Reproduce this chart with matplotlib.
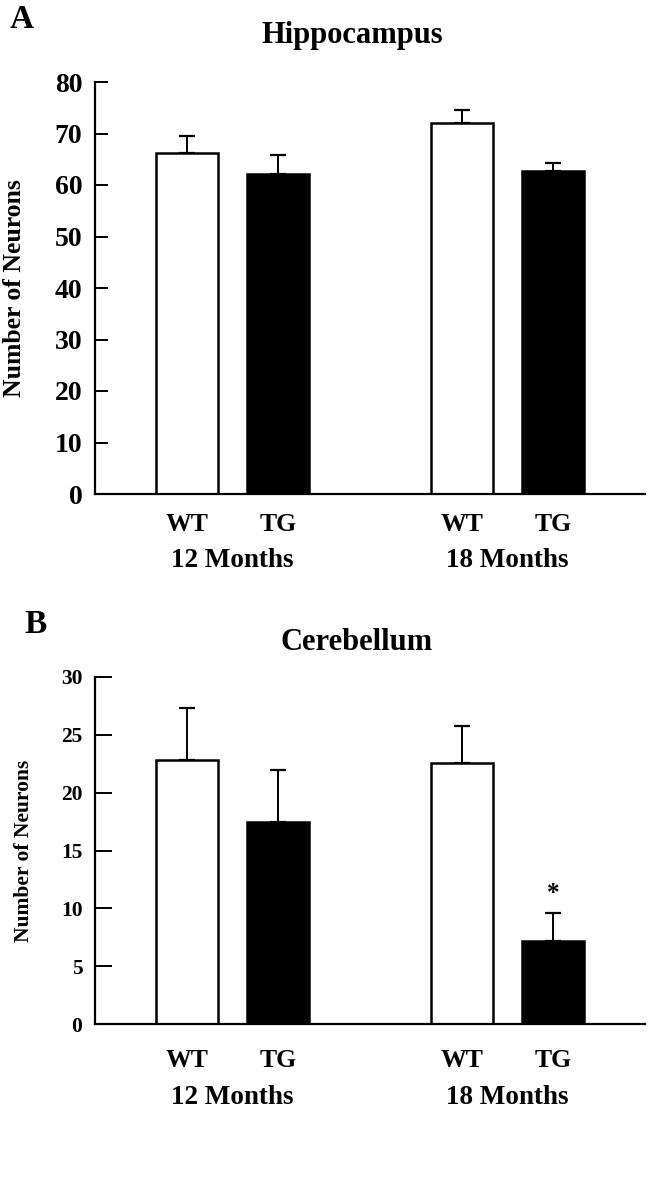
import matplotlib
matplotlib.use("Agg")
import matplotlib.pyplot as plt

plt.rcParams['font.family'] = ['Liberation Serif', 'DejaVu Serif']
plt.rcParams['font.weight'] = 'bold'

# ---- data ----
genotypes = ["WT", "TG", "WT", "TG"]
ages = ["12 Months", "18 Months"]
hippo_mean = [66.3, 62.1, 72.1, 62.7]
hippo_sem = [3.2, 3.8, 2.5, 1.5]
cereb_mean = [22.8, 17.5, 22.6, 7.2]
cereb_sem = [4.5, 4.5, 3.2, 2.4]
bar_colors = ["white", "black", "white", "black"]
positions = [0, 1, 3, 4]
group_centers = [0.5, 3.5]

W, H = 652, 1199
fig = plt.figure(figsize=(W / 100, H / 100), dpi=100)


def fx(px):
    return px / W


def fy(py):
    return 1 - py / H


def panel(box, means, sems, ymax, step, title, title_xy, letter, letter_xy,
          lab_off, grp_off, tick_fs, tick_len, ylab_fs, ylab_x, star=False):
    left, top, right, bottom = box
    ax = fig.add_axes([fx(left), fy(bottom), fx(right) - fx(left), fy(top) - fy(bottom)])
    ax.bar(positions, means, width=0.675, color=bar_colors, edgecolor="black",
           linewidth=1.8, zorder=2)
    ax.errorbar(positions, means, yerr=[[0] * len(sems), sems], fmt="none",
                ecolor="black", elinewidth=1.4, capsize=6, capthick=1.6, zorder=1)
    ax.set_xlim(-1, 5)
    ax.set_ylim(0, ymax)
    ax.set_yticks(range(0, ymax + 1, step))
    ax.tick_params(axis="y", direction="in", length=tick_len, width=1.4,
                   labelsize=tick_fs, pad=9)
    ax.set_xticks([])
    for s in ["top", "right"]:
        ax.spines[s].set_visible(False)
    ax.spines["left"].set_linewidth(1.6)
    ax.spines["bottom"].set_linewidth(1.6)
    for lab in ax.get_yticklabels():
        lab.set_fontweight("bold")
    fig.text(fx(ylab_x), fy((top + bottom) / 2), "Number of Neurons", rotation=90,
             ha="center", va="center", fontsize=ylab_fs, fontweight="bold")
    for p, g in zip(positions, genotypes):
        ax.annotate(g, xy=(p, 0), xycoords=("data", "axes fraction"),
                    xytext=(0, -lab_off), textcoords="offset points",
                    ha="center", va="center", fontsize=18.5, fontweight="bold")
    for c, a in zip(group_centers, ages):
        ax.annotate(a, xy=(c, 0), xycoords=("data", "axes fraction"),
                    xytext=(0, -grp_off), textcoords="offset points",
                    ha="center", va="center", fontsize=19.5, fontweight="bold")
    fig.text(fx(title_xy[0]), fy(title_xy[1]), title, ha="center", va="center",
             fontsize=22, fontweight="bold")
    fig.text(fx(letter_xy[0]), fy(letter_xy[1]), letter, ha="center", va="center",
             fontsize=24, fontweight="bold")
    if star:
        ax.annotate("*", xy=(positions[3], means[3] + sems[3]), xycoords="data",
                    xytext=(0, 14), textcoords="offset points",
                    ha="center", va="center", fontsize=18, fontweight="bold")
    return ax


axA = panel((95, 82, 645, 494), hippo_mean, hippo_sem, 80, 10, "Hippocampus",
            (352, 35), "A", (22, 20), 22, 48, 20, 9.5, 18.5, 15)
axB = panel((95, 677, 645, 1024), cereb_mean, cereb_sem, 30, 5, "Cerebellum",
            (357, 643), "B", (36, 624), 26, 53, 15.5, 12, 15.5, 24, star=True)

fig.savefig("out.png", dpi=100)
